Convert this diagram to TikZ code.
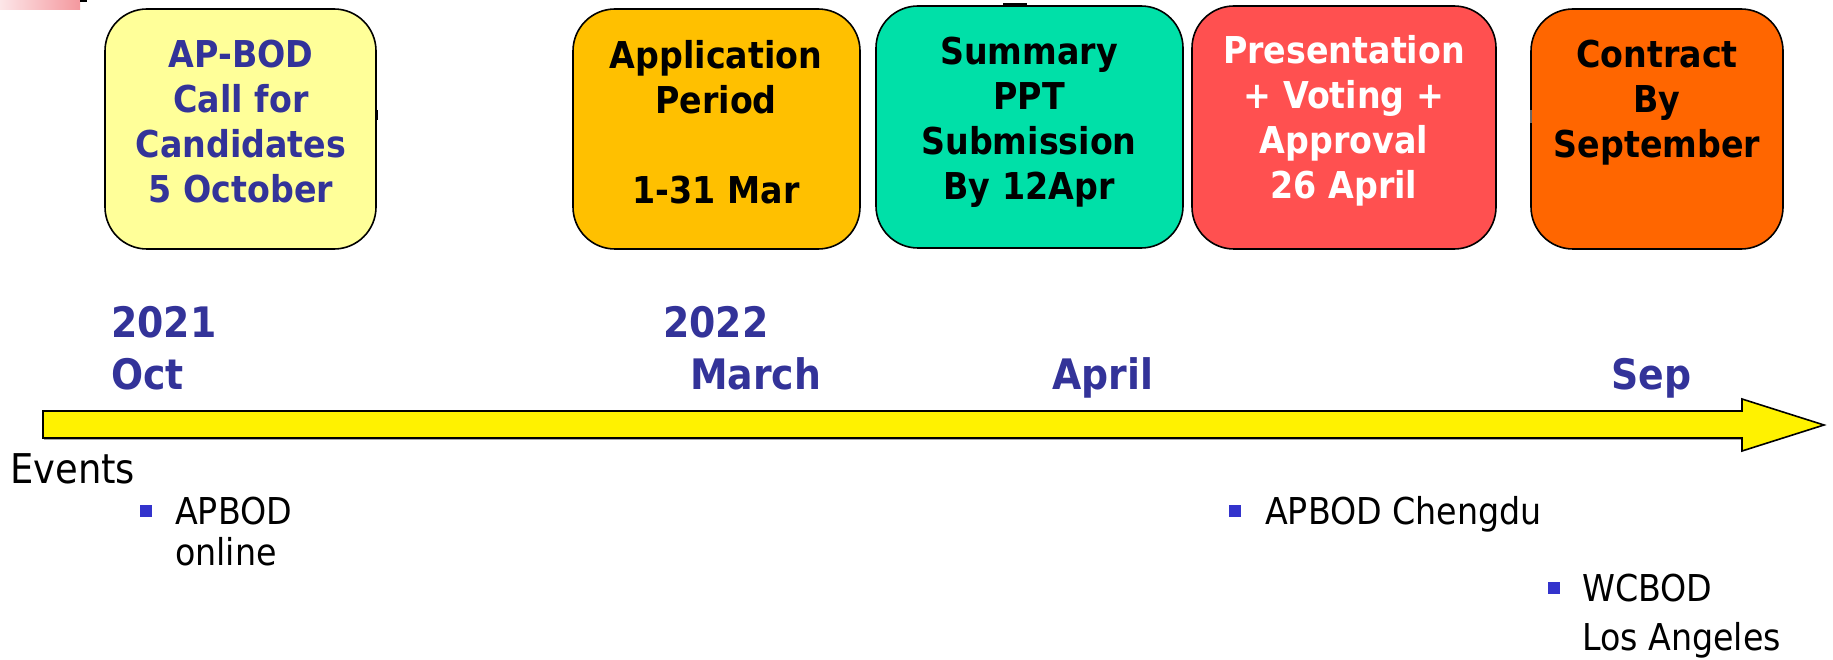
\documentclass[tikz,border=0pt]{standalone}
\usepackage{fontspec}
\IfFontExistsTF{DejaVu Sans Condensed}{\setmainfont{DejaVu Sans Condensed}}{\setmainfont{DejaVu Sans}}
\definecolor{navy}{HTML}{333399}
\definecolor{boxA}{HTML}{FFFF99}
\definecolor{boxB}{HTML}{FFC000}
\definecolor{boxC}{HTML}{00E0A8}
\definecolor{boxD}{HTML}{FF5050}
\definecolor{boxE}{HTML}{FF6600}
\definecolor{bul}{HTML}{3333CC}
\definecolor{pinkL}{RGB}{252,230,232}
\definecolor{pinkR}{RGB}{244,152,158}
\tikzset{
  card/.style={draw=black, line width=1.6pt, rounded corners=42pt, inner sep=0pt},
  cardtext/.style={align=center, inner sep=0pt, font=\fontsize{37}{45}\selectfont\bfseries},
  yr/.style={anchor=base west, inner sep=0pt, text=navy, font=\fontsize{42}{50}\selectfont\bfseries},
  evt/.style={anchor=base west, inner sep=0pt, font=\fontsize{37}{45}\selectfont},
  bullet/.style={fill=bul, draw=none, inner sep=0pt, minimum size=12pt},
  tick/.style={draw=black, line width=3pt},
}
\begin{document}
\begin{tikzpicture}[x=1pt,y=-1pt]
\useasboundingbox (0,0) rectangle (1833,660);
% top-left strip
\shade[left color=pinkL, right color=pinkR] (0,0) rectangle (80,10);
\draw[line width=2pt] (80,1) -- (87,1);
% cards
\node[card, fill=boxA, minimum width=271pt, minimum height=240pt] (b1) at (240.5,129) {};
\node[card, fill=boxB, minimum width=287pt, minimum height=240pt] (b2) at (716.5,129) {};
\node[card, fill=boxC, minimum width=307pt, minimum height=242pt] (b3) at (1029.5,127) {};
\node[card, fill=boxD, minimum width=304pt, minimum height=243pt] (b4) at (1344,127.5) {};
\node[card, fill=boxE, minimum width=252pt, minimum height=240pt] (b5) at (1657,129) {};
\draw[tick] (376,110) -- (376,120);
\draw[tick] (1003,5) -- (1027,5);
\draw[tick, draw=black!60, line width=2pt] (1531,110) -- (1531,123);
% card texts
\node[cardtext, text=navy] (t1) at (241,122) {AP-BOD\\Call for\\Candidates\\5 October};
\node[cardtext, text=black] (t2) at (716,122) {Application\\Period\\\mbox{}\\1-31 Mar};
\node[cardtext, text=black] (t3) at (1029,122) {Summary\\PPT\\Submission\\By 12Apr};
\node[cardtext, text=white] (t4) at (1344,121) {Presentation\\+ Voting +\\Approval\\26 April};
\node[cardtext, text=black] (t5) at (1657,103) {Contract\\By\\September};
% dates
\node[yr] (y1) at (111,337) {2021};
\node[yr] (m1) at (111,389) {Oct};
\node[yr] (y2) at (663,337) {2022};
\node[yr] (m2) at (690,389) {March};
\node[yr] (m3) at (1052,389) {April};
\node[yr] (m4) at (1611,389) {Sep};
% timeline arrow
\coordinate (aL) at (43,411);
\coordinate (aT) at (1824,425);
\fill[black!35] ([shift={(1,2)}]aL) -- (1742,413) -- (1742,440) -- (44,440) -- cycle;
\draw[fill=yellow, line width=1.6pt, line join=miter]
  (aL) -- (1742,411) -- (1742,399) -- (aT) -- (1742,451) -- (1742,438) -- (43,438) -- cycle;
% events
\node[evt, font=\fontsize{41}{48}\selectfont] (ev) at (10,483) {Events};
\node[bullet] (p1) at (145.5,511) {};
\node[evt] (e1) at (175,524) {APBOD};
\node[evt] (e1b) at (175,565) {online};
\node[bullet] (p2) at (1235,511) {};
\node[evt] (e2) at (1265,524) {APBOD Chengdu};
\node[bullet] (p3) at (1554,588) {};
\node[evt] (e3) at (1582,601) {WCBOD};
\node[evt] (e3b) at (1582,650) {Los Angeles};
\end{tikzpicture}
\end{document}
